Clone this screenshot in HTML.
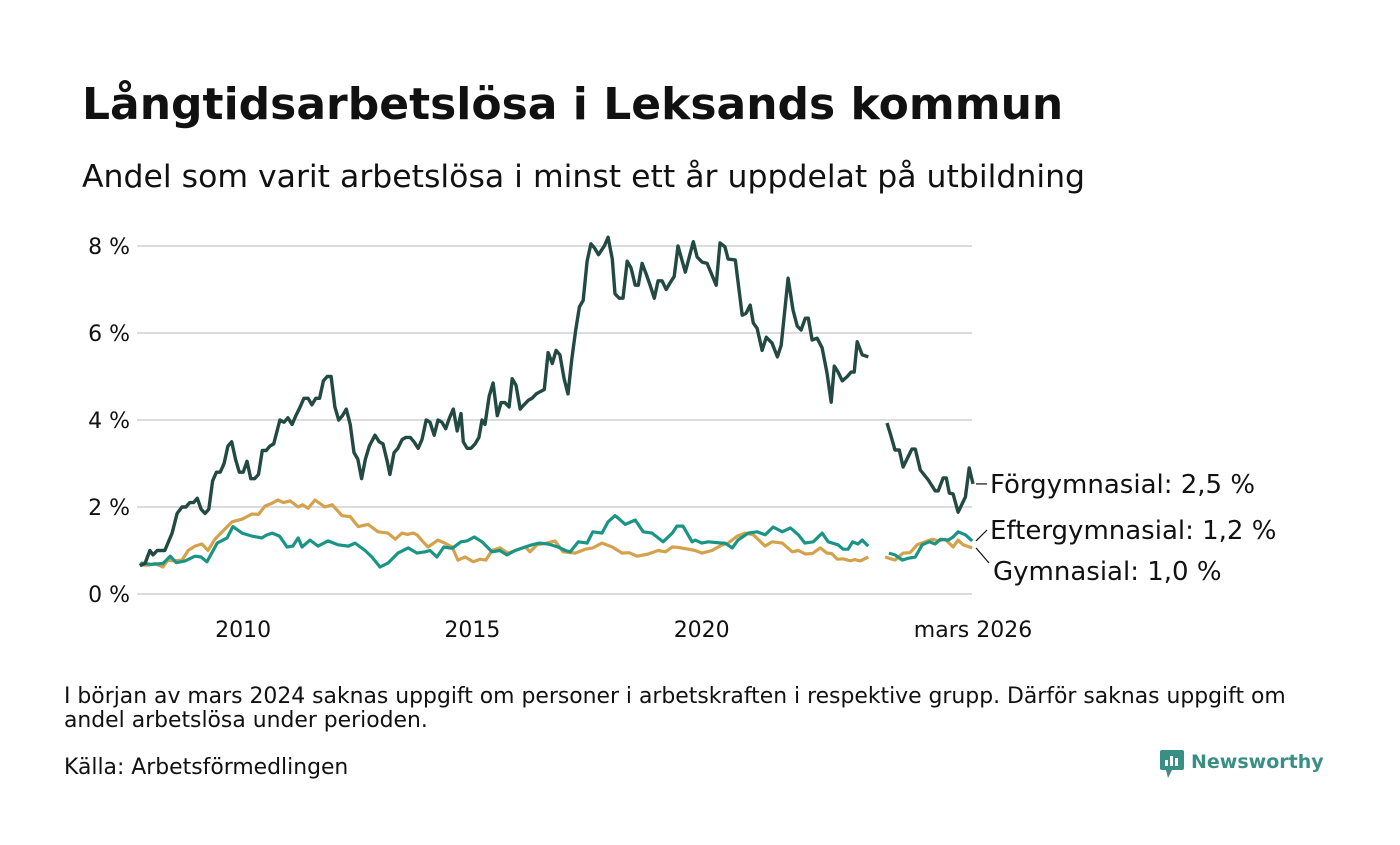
<!DOCTYPE html>
<html><head><meta charset="utf-8">
<style>
body{margin:0;background:#fff;width:1400px;height:840px;overflow:hidden;font-family:"Liberation Sans","DejaVu Sans",sans-serif;color:#111;}
svg text{font-family:"DejaVu Sans","Liberation Sans",sans-serif;}
</style></head>
<body>
<svg id="chart" width="1400" height="840" viewBox="0 0 1400 840" xmlns="http://www.w3.org/2000/svg">
<text x="82" y="119" font-size="44" font-weight="bold" fill="#111">Långtidsarbetslösa i Leksands kommun</text>
<text x="82" y="187" font-size="31.5" fill="#111">Andel som varit arbetslösa i minst ett år uppdelat på utbildning</text>
<g id="grid"></g>
<g id="yticks"></g>
<g id="xticks"></g>
<g id="series"></g>
<g id="labels"></g>
<text x="64" y="703" font-size="21.9" fill="#111">I början av mars 2024 saknas uppgift om personer i arbetskraften i respektive grupp. Därför saknas uppgift om</text>
<text x="64" y="727" font-size="21.9" fill="#111">andel arbetslösa under perioden.</text>
<text x="64" y="774" font-size="21.9" fill="#111">Källa: Arbetsförmedlingen</text>
<g>
<rect x="1160" y="750" width="24" height="20" rx="2" fill="#3a8f85"/>
<polygon points="1166,770 1172,770 1168,778" fill="#3a8f85"/>
<rect x="1165" y="760" width="3" height="6" fill="#fff"/><rect x="1170" y="756" width="3" height="10" fill="#fff"/><rect x="1175" y="758" width="3" height="8" fill="#fff"/>
<text x="1191" y="768" font-size="19" font-weight="bold" fill="#3a8f85">Newsworthy</text>
</g>
</svg>
<script>
// months since Jan 2008 (index 0) ; values in %
const forgMonths=[0,1.3,2.6,3.4,4.5,6.5,8.4,9.7,11,12,13,14,15,16,17,18,19,20,21,22,23,24,25,26,27,28,29,30,31,32,33,34,35,36.6,37.7,38.7,39.8,40.8,41.9,42.9,44,45,46,47,48,49,50,51,52,53,54,55,56,57,58,59,60,61.5,62.6,63.6,64.7,65.4,66.5,67.5,68.6,69.6,70.7,71.7,72.8,73.8,74.9,75.9,77,78,79,80,81,82,83,84,84.6,85.6,86.6,87.7,88.7,89.5,90.3,91.4,92.4,93.5,94.5,95.5,96.6,97.4,98.4,99.5,100.5,101.6,102.6,103.7,104.7,105.8,106.8,107.9,108.9,109.9,111,112,113,114,115,116,117,118,119,120,121.5,122.5,123.6,124.3,125.4,126.4,127.5,128.5,129.6,130.4,131.4,132.5,133.5,134.6,135.6,136.6,137.7,138.7,139.8,140.8,142.7,144.8,145.8,147.1,148.4,150.8,151.8,153.1,153.9,155.8,157.6,158.6,159.7,160.5,161.5,162.8,163.9,165.4,166.8,167.8,169.6,170.9,172,173,174.1,174.9,175.9,177.2,178.5,179.8,180.9,181.7,182.7,183.8,185.1,186.1,186.9,187.7,189,190.6,null,195.5,196.3,197.6,198.7,199.7,201,202,202.9,204.2,206.3,208.1,208.9,210.2,211,211.8,212.8,214.1,216,217,218];
const forgValues=[0.65,0.7,1.0,0.9,1.0,1.0,1.4,1.85,2.0,2.0,2.1,2.1,2.2,1.95,1.85,1.95,2.6,2.8,2.8,3.0,3.4,3.5,3.1,2.8,2.8,3.05,2.65,2.65,2.75,3.3,3.3,3.4,3.45,4.0,3.95,4.05,3.9,4.1,4.3,4.5,4.5,4.35,4.5,4.5,4.9,5.0,5.0,4.3,4.0,4.1,4.25,3.9,3.25,3.1,2.65,3.1,3.4,3.65,3.5,3.45,3.05,2.75,3.25,3.35,3.55,3.6,3.6,3.5,3.35,3.55,4.0,3.95,3.65,4.0,3.95,3.8,4.05,4.25,3.75,4.15,3.5,3.35,3.35,3.45,3.6,4.0,3.9,4.55,4.85,4.1,4.4,4.4,4.3,4.95,4.8,4.25,4.35,4.45,4.5,4.6,4.65,4.7,5.55,5.3,5.6,5.5,4.95,4.6,5.4,6.05,6.6,6.75,7.65,8.05,7.95,7.8,8.0,8.2,7.7,6.9,6.8,6.8,7.65,7.5,7.1,7.1,7.6,7.35,7.1,6.8,7.2,7.2,7.0,7.15,7.3,8.0,7.4,8.1,7.75,7.63,7.6,7.1,8.07,7.98,7.7,7.68,6.41,6.45,6.64,6.23,6.11,5.6,5.9,5.77,5.45,5.72,7.26,6.53,6.16,6.07,6.34,6.34,5.84,5.88,5.66,5.08,4.41,5.24,5.1,4.9,5.0,5.1,5.1,5.8,5.5,5.45,null,3.93,3.7,3.31,3.31,2.92,3.15,3.33,3.33,2.85,2.62,2.37,2.37,2.67,2.67,2.32,2.3,1.88,2.23,2.9,2.53];
const efterMonths=[0,0.5,3,6,7.9,9.5,11.8,14.4,16,17.5,20.2,22.8,24.3,26.7,29.3,31.9,33,34.6,36.5,38.5,40,41.4,42.4,44.5,46.6,49.2,51.8,54.5,56.3,58.9,60.7,62.8,64.9,67.5,70.2,72.5,74.6,75.9,77.7,79.5,81.7,84,85.6,87.5,89.5,92.1,94.2,96,98.2,100.8,102.6,104.5,106.8,109.4,111.3,112.6,114.7,117,118.5,120.9,122.5,124.3,125.1,127,129.6,131.7,134,135.3,136.9,139.3,140.5,142.1,144.5,145.3,147,148.7,152.4,153.1,155,156.5,159.2,161.5,163.6,165.7,168.1,170.2,172.3,174,176.2,178.5,180.1,182.7,184,185.3,186.5,187.9,189,190.6,null,195,196,197.6,199.5,201,202.9,204.7,206.5,208.1,209.5,211.5,212.8,214.1,216,217.8];
const efterValues=[0.65,0.71,0.68,0.7,0.87,0.72,0.76,0.87,0.85,0.74,1.17,1.29,1.55,1.4,1.33,1.29,1.35,1.4,1.33,1.08,1.1,1.29,1.08,1.24,1.1,1.22,1.13,1.1,1.17,1.0,0.85,0.62,0.71,0.94,1.06,0.94,0.97,1.0,0.85,1.08,1.05,1.2,1.22,1.31,1.2,0.97,1.0,0.9,1.0,1.08,1.13,1.17,1.15,1.08,1.0,0.97,1.2,1.17,1.43,1.4,1.66,1.8,1.75,1.6,1.7,1.43,1.4,1.31,1.2,1.4,1.56,1.56,1.2,1.24,1.17,1.2,1.17,1.17,1.06,1.24,1.4,1.43,1.36,1.54,1.43,1.52,1.36,1.17,1.2,1.4,1.2,1.13,1.03,1.03,1.2,1.15,1.24,1.1,1.15,null,0.94,0.9,0.78,0.82,0.85,1.13,1.2,1.15,1.26,1.24,1.31,1.43,1.36,1.22,1.22];
const gymMonths=[0,0.5,2,3.9,6,7.3,9,11,12.6,14.4,16.2,17.8,19.6,21.5,24.1,26.7,29.3,31,32.7,34.6,36.1,37.5,39.3,41.4,42.5,44,45.8,48.4,50.3,52.9,55,57.1,59.7,62.3,64.9,66.8,68.6,70,71.5,72.5,74.1,75.4,78,79.8,81.7,83.2,85.1,87.2,89,90.5,92.1,94.2,96.3,98.2,100.8,102.1,103.9,106.5,108.6,110.7,113.9,116.5,118.5,120.9,123.6,126.2,128,130.1,133,135.6,137.5,139.3,141,143.5,145.3,147.1,149.7,152.4,153.9,156.3,158.4,160.5,163.6,165.4,168.1,170.7,172.3,174.1,176,178,179.8,181,182.5,184,185.9,187,188.5,190.6,null,195,197.6,199.7,201.5,203.4,205.5,207.3,209,210.7,212.8,214.1,215.4,217.8];
const gymValues=[0.67,0.67,0.66,0.7,0.62,0.78,0.76,0.78,1.0,1.1,1.15,1.0,1.26,1.43,1.66,1.72,1.84,1.83,2.02,2.09,2.16,2.1,2.14,2.0,2.05,1.97,2.16,2.0,2.05,1.8,1.78,1.55,1.6,1.43,1.4,1.26,1.4,1.37,1.4,1.36,1.2,1.08,1.24,1.17,1.08,0.78,0.85,0.74,0.8,0.78,1.0,1.06,0.94,1.0,1.08,0.97,1.13,1.17,1.22,0.97,0.94,1.03,1.06,1.17,1.08,0.94,0.95,0.87,0.92,1.0,0.97,1.08,1.07,1.03,1.0,0.94,1.0,1.13,1.17,1.33,1.4,1.36,1.1,1.2,1.17,0.97,1.0,0.92,0.93,1.06,0.94,0.93,0.8,0.81,0.76,0.79,0.76,0.85,null,0.85,0.78,0.94,0.95,1.13,1.2,1.26,1.22,1.26,1.08,1.24,1.13,1.06];
const yTicks=[0,2,4,6,8];
const yTickLabels=["0 %","2 %","4 %","6 %","8 %"];
const xTickMonths=[27,87,147,218];
const xTickLabels=["2010","2015","2020","mars 2026"];
const endLabels=["Förgymnasial: 2,5 %","Eftergymnasial: 1,2 %","Gymnasial: 1,0 %"];

const NS="http://www.w3.org/2000/svg";
const X0=140, X1=973, M0=0, M1=218, Y0=594, PPU=43.5;
const xs=m=>X0+(m-M0)*(X1-X0)/(M1-M0);
const ys=v=>Y0-v*PPU;
function mk(tag,attrs,parent){const e=document.createElementNS(NS,tag);for(const k in attrs)e.setAttribute(k,attrs[k]);parent.appendChild(e);return e;}
const grid=document.getElementById('grid'), yt=document.getElementById('yticks'), xt=document.getElementById('xticks');
yTicks.forEach((v,i)=>{
  const l=mk('line',{x1:137,x2:972,y1:ys(v),y2:ys(v),stroke:'#dcdcdc','stroke-width':2},grid);
  
  
  const t=mk('text',{x:130,y:ys(v)+8,'text-anchor':'end','font-size':22,fill:'#111'},yt);
  t.textContent=yTickLabels[i];
  
  
});
xTickMonths.forEach((m,i)=>{
  const t=mk('text',{x:xs(m),y:637,'text-anchor':'middle','font-size':22,fill:'#111'},xt);
  t.textContent=xTickLabels[i];
  
  
});
function path(ms,vs){let d='',pen=false;for(let i=0;i<ms.length;i++){if(ms[i]===null||vs[i]===null){pen=false;continue;}d+=(pen?'L':'M')+xs(ms[i]).toFixed(1)+','+ys(vs[i]).toFixed(1);pen=true;}return d;}
const sg=document.getElementById('series');
const p1=mk('path',{d:path(gymMonths,gymValues),fill:'none',stroke:'#d4a24c','stroke-width':3.2,'stroke-linejoin':'round'},sg);


const p2=mk('path',{d:path(efterMonths,efterValues),fill:'none',stroke:'#1a9585','stroke-width':3.2,'stroke-linejoin':'round'},sg);


const p3=mk('path',{d:path(forgMonths,forgValues),fill:'none',stroke:'#234a42','stroke-width':3.4,'stroke-linejoin':'round'},sg);


const lg=document.getElementById('labels');
const lastF=forgValues[forgValues.length-1], lastE=efterValues[efterValues.length-1], lastG=gymValues[gymValues.length-1];
const lab=[[lastF,ys(lastF),endLabels[0],'label-forgymnasial'],[lastE,530,endLabels[1],'label-eftergymnasial'],[lastG,571,endLabels[2],'label-gymnasial']];
lab.forEach((a,i)=>{
  const y0=ys(a[0]);
  const ln=mk('line',{x1:976,y1:y0,x2:i==2?989:987,y2:i==2?a[1]-8:a[1],stroke:'#111','stroke-width':1.2},lg);
  
  
  const t=mk('text',{x:i==2?993:990,y:a[1]+9,'font-size':26,fill:'#111'},lg);
  t.textContent=a[2];
  
  
});
</script>
</body></html>
